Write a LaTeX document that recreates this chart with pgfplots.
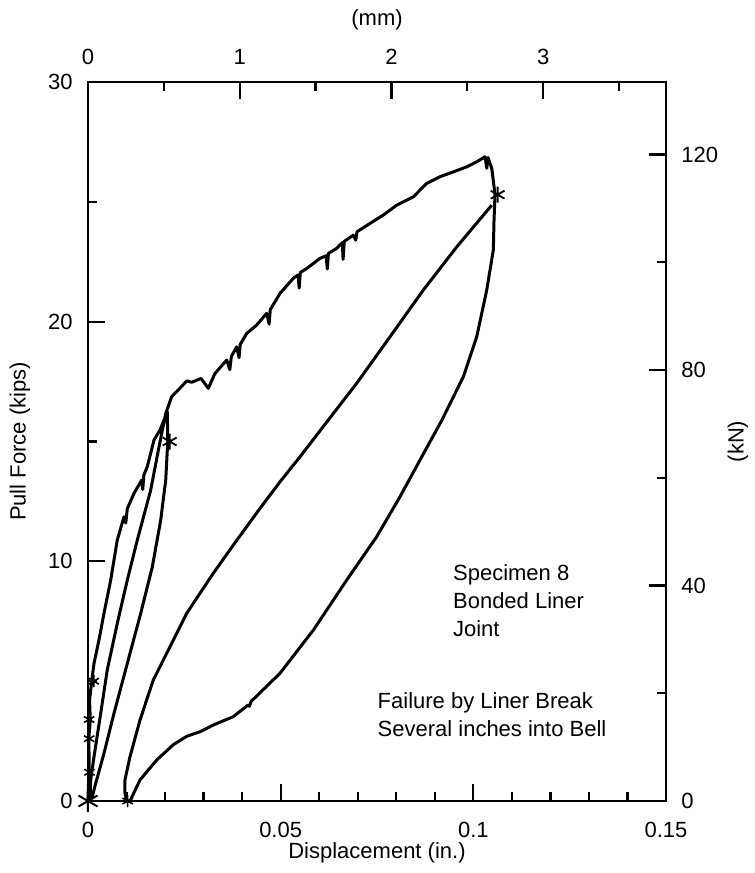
\documentclass[border=0pt]{standalone}
\usepackage{fontspec}
\setmainfont{Liberation Sans}
\usepackage{pgfplots}
\pgfplotsset{compat=1.18}
\begin{document}
\begin{tikzpicture}
\pgfplotsset{
  myax/.style={scale only axis, width=289pt, height=359.5pt,
    font=\fontsize{11}{13.2}\selectfont,
    /pgf/number format/assume math mode=true,
    tick align=inside, major tick length=8.5pt, minor tick length=4.5pt,
    every tick/.style={black, line width=1.1pt},
    axis line style={line width=1.3pt},
  }
}
\begin{axis}[myax, name=main,
  xmin=0, xmax=0.15, ymin=0, ymax=30,
  xtick={0,0.05,0.1,0.15}, xticklabels={0,0.05,0.1,0.15}, minor x tick num=4,
  ytick={0,10,20,30}, yticklabels={0,10,20,30}, minor y tick num=1,
  xtick pos=bottom, ytick pos=left,
  xticklabel style={inner sep=0pt, yshift=-10.5pt},
  yticklabel style={inner sep=0pt, xshift=-7.5pt},
  xlabel={Displacement (in.)}, ylabel={Pull Force (kips)},
  xlabel style={at={(axis description cs:0.5,-0.0723)}, anchor=center},
  ylabel style={at={(axis description cs:-0.1176,0.5)}, anchor=center, rotate=0},
  clip=false,
]
\addplot[black, line width=1.5pt, line join=round] coordinates {
(0,0) (0.0003,1.7) (0.0002,2.6) (0.0006,3.4) (0.0004,4.2) (0.001,5.05)
(0.00156,5.74) (0.00285,6.72) (0.00415,7.83) (0.00589,9.22) (0.0076,10.89)
(0.00934,11.86) (0.0098,11.6) (0.0102,12.2) (0.01194,12.84) (0.01394,13.39)
(0.0142,13.0) (0.0145,13.6) (0.01539,13.95) (0.01713,15.06) (0.01869,15.48)
(0.02058,16.24)
(0.0207,15.0)
(0.02017,13.39) (0.01887,11.72) (0.01669,9.77) (0.01368,7.83) (0.0102,5.74)
(0.00675,3.66) (0.00415,1.99) (0.002,0.74) (0.00112,0.18) (0.0005,0.04)
(0.0007,0.88) (0.00156,1.85) (0.0033,3.66) (0.005,5.47) (0.0076,7.41)
(0.0102,9.22) (0.0128,10.89) (0.01627,12.97) (0.01843,14.78) (0.02017,16.17)
(0.02172,16.87) (0.02344,17.15) (0.02562,17.53) (0.02691,17.47) (0.02933,17.63)
(0.03122,17.22) (0.03296,17.84) (0.036,18.4) (0.0368,18.0) (0.0372,18.55)
(0.03859,18.95) (0.0392,18.5) (0.0395,19.05) (0.04119,19.51) (0.04378,19.86)
(0.04638,20.35) (0.0470,19.9) (0.0473,20.5) (0.04983,21.18) (0.05328,21.81)
(0.0545,21.95) (0.0548,21.4) (0.0551,22.05) (0.05676,22.22) (0.06021,22.64)
(0.0618,22.75) (0.0621,22.2) (0.0624,22.85) (0.06455,23.06) (0.0660,23.3)
(0.0662,22.6) (0.0665,23.35) (0.06886,23.61) (0.0695,23.4) (0.0698,23.75)
(0.07319,24.1) (0.07664,24.45) (0.08012,24.86) (0.08443,25.21) (0.0879,25.77)
(0.09136,26.05) (0.09481,26.25) (0.09829,26.46) (0.10088,26.67) (0.10304,26.88)
(0.1035,26.4) (0.1038,26.85) (0.10478,26.4) (0.10563,25.3)
(0.10537,24.24) (0.10519,22.99) (0.10348,21.32) (0.10088,19.37) (0.0974,17.7)
(0.09187,15.9) (0.08661,14.36) (0.08098,12.7) (0.07493,11.03) (0.06714,9.22)
(0.05847,7.13) (0.04983,5.33) (0.0423,4.15) (0.0419,3.95) (0.0415,4.0)
(0.03771,3.52) (0.03252,3.17) (0.02907,2.89) (0.02562,2.7) (0.02214,2.35)
(0.01783,1.71) (0.0135,0.88) (0.0109,0)
(0.01004,0) (0.0096,0.33) (0.0096,0.88) (0.0109,1.85) (0.0135,3.38)
(0.01695,5.05) (0.02128,6.44) (0.02562,7.83) (0.02907,8.67) (0.03252,9.5)
(0.03771,10.68) (0.04464,12.21) (0.04983,13.32) (0.05502,14.36) (0.06237,15.9)
(0.06974,17.43) (0.07838,19.37) (0.08702,21.32) (0.09569,23.12) (0.10478,24.86)
};
\addplot[black, only marks, mark=asterisk, mark size=5.5pt, line width=1pt] coordinates {(0,0)};
\addplot[black, only marks, mark=asterisk, mark size=4pt, line width=0.9pt] coordinates {(0.0212,15.0) (0.1063,25.3)};
\addplot[black, only marks, mark=asterisk, mark size=3pt, line width=0.8pt] coordinates {(0.0103,0) (0.0015,5.0) (0.0003,2.6) (0.0003,3.4) (0.0004,1.2)};
\node[anchor=base west, inner sep=0pt] at (axis cs:0.09465,9.22) {Specimen 8};
\node[anchor=base west, inner sep=0pt] at (axis cs:0.09465,8.04) {Bonded Liner};
\node[anchor=base west, inner sep=0pt] at (axis cs:0.09465,6.85) {Joint};
\node[anchor=base west, inner sep=0pt] at (axis cs:0.07508,3.87) {Failure by Liner Break};
\node[anchor=base west, inner sep=0pt] at (axis cs:0.07508,2.68) {Several inches into Bell};
\end{axis}
\begin{axis}[myax,
  xmin=0, xmax=3.81, ymin=0, ymax=133.4466,
  xtick={0,1,2,3}, xticklabels={0,1,2,3}, minor xtick={0.5,1.5,2.5,3.5},
  ytick={0,40,80,120}, yticklabels={0,40,80,120}, minor ytick={20,60,100},
  xtick pos=top, ytick pos=right, xticklabel pos=top, yticklabel pos=right,
  xticklabel style={inner sep=0pt, yshift=8.5pt},
  yticklabel style={inner sep=0pt, xshift=7.5pt},
  xlabel={(mm)}, ylabel={(kN)},
  xlabel style={at={(axis description cs:0.5,1.0862)}, anchor=center},
  ylabel style={at={(axis description cs:1.1246,0.5)}, anchor=center, rotate=0},
]
\end{axis}
\path (main.south west) ++(-44pt,-36pt) rectangle ++(376pt,436.5pt);
\end{tikzpicture}
\end{document}
